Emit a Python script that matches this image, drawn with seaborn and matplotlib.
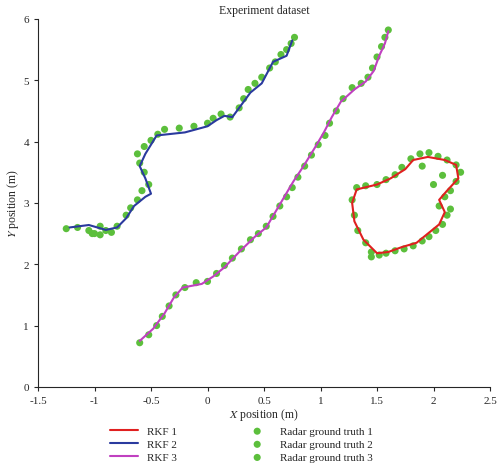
import seaborn as sns
import matplotlib.pyplot as plt

# RKF trajectories
rkf1_x = [1.5, 1.38, 1.3, 1.28, 1.32, 1.5, 1.62, 1.75, 1.82, 1.95, 2.1, 2.2, 2.22, 2.12, 2.05, 2.1, 2.05, 1.95, 1.85, 1.72, 1.6, 1.5]
rkf1_y = [2.18, 2.4, 2.7, 3.0, 3.22, 3.3, 3.4, 3.55, 3.7, 3.75, 3.7, 3.62, 3.4, 3.2, 3.05, 2.85, 2.65, 2.5, 2.35, 2.28, 2.2, 2.18]
rkf2_x = [-1.22, -1.05, -0.9, -0.8, -0.72, -0.65, -0.55, -0.5, -0.55, -0.6, -0.55, -0.5, -0.45, -0.2, 0.0, 0.08, 0.15, 0.22, 0.3, 0.38, 0.48, 0.58, 0.7, 0.75]
rkf2_y = [2.6, 2.64, 2.56, 2.6, 2.75, 2.95, 3.1, 3.15, 3.4, 3.6, 3.8, 3.95, 4.1, 4.15, 4.25, 4.35, 4.42, 4.4, 4.6, 4.8, 4.95, 5.3, 5.4, 5.65]
rkf3_x = [-0.6, -0.48, -0.38, -0.3, -0.22, -0.05, 0.05, 0.15, 0.28, 0.42, 0.52, 0.6, 0.68, 0.76, 0.85, 0.95, 1.03, 1.1, 1.18, 1.3, 1.4, 1.47, 1.52, 1.57, 1.6]
rkf3_y = [0.75, 0.95, 1.2, 1.45, 1.62, 1.68, 1.8, 1.95, 2.2, 2.45, 2.6, 2.85, 3.1, 3.35, 3.6, 3.9, 4.15, 4.4, 4.65, 4.85, 4.98, 5.15, 5.4, 5.6, 5.8]

# radar ground truth points
gt1_x = [1.45, 1.4, 1.33, 1.3, 1.28, 1.32, 1.4, 1.5, 1.58, 1.66, 1.72, 1.8, 1.88, 1.96, 2.04, 2.12, 2.2, 2.24, 2.2, 2.15, 2.1, 2.05, 2.12, 2.08, 2.02, 1.96, 1.9, 1.82, 1.74, 1.66, 1.58, 1.52, 1.45, 2.0, 1.9, 2.15, 2.08]
gt1_y = [2.2, 2.35, 2.55, 2.8, 3.05, 3.25, 3.28, 3.3, 3.38, 3.46, 3.58, 3.72, 3.8, 3.82, 3.76, 3.7, 3.62, 3.5, 3.35, 3.2, 3.1, 2.95, 2.8, 2.65, 2.55, 2.45, 2.38, 2.3, 2.25, 2.22, 2.18, 2.15, 2.12, 3.3, 3.6, 2.9, 3.45]
gt2_x = [-1.25, -1.15, -1.05, -1.0, -0.95, -0.9, -0.85, -0.95, -1.02, -0.8, -0.72, -0.68, -0.62, -0.58, -0.52, -0.56, -0.6, -0.62, -0.56, -0.5, -0.44, -0.38, -0.25, -0.12, 0.0, 0.05, 0.12, 0.2, 0.28, 0.32, 0.36, 0.42, 0.48, 0.55, 0.6, 0.65, 0.7, 0.74, 0.77]
gt2_y = [2.58, 2.6, 2.55, 2.5, 2.48, 2.55, 2.52, 2.62, 2.5, 2.62, 2.8, 2.92, 3.05, 3.2, 3.3, 3.5, 3.65, 3.8, 3.92, 4.02, 4.12, 4.2, 4.22, 4.25, 4.3, 4.38, 4.45, 4.4, 4.55, 4.7, 4.85, 4.95, 5.05, 5.2, 5.3, 5.42, 5.5, 5.6, 5.7]
gt3_x = [-0.6, -0.52, -0.45, -0.4, -0.34, -0.28, -0.2, -0.1, 0.0, 0.08, 0.15, 0.22, 0.3, 0.38, 0.45, 0.52, 0.58, 0.64, 0.7, 0.75, 0.8, 0.86, 0.92, 0.98, 1.04, 1.08, 1.14, 1.2, 1.28, 1.36, 1.42, 1.46, 1.5, 1.54, 1.57, 1.6]
gt3_y = [0.72, 0.85, 1.0, 1.15, 1.32, 1.5, 1.62, 1.7, 1.72, 1.85, 1.98, 2.1, 2.25, 2.4, 2.5, 2.62, 2.78, 2.95, 3.1, 3.25, 3.42, 3.6, 3.78, 3.95, 4.1, 4.3, 4.5, 4.7, 4.88, 4.95, 5.05, 5.2, 5.38, 5.55, 5.7, 5.82]

sns.set_style("ticks")
plt.rcParams['font.family'] = ['Liberation Serif', 'DejaVu Serif']
plt.rcParams['mathtext.fontset'] = 'stix'

fig = plt.figure(figsize=(5, 4.64), dpi=100)
ax = fig.add_axes([0.076, 0.164, 0.904, 0.793])

green = '#5cbf3c'
for xs, ys, lab in [(gt1_x, gt1_y, 'Radar ground truth 1'), (gt2_x, gt2_y, 'Radar ground truth 2'), (gt3_x, gt3_y, 'Radar ground truth 3')]:
    sns.scatterplot(x=xs, y=ys, ax=ax, color=green, s=26, edgecolor='none', label=lab, zorder=2)

# plain plot keeps the path order (lineplot would aggregate repeated x)
for xs, ys, c, lab in [(rkf1_x, rkf1_y, '#e02020', 'RKF 1'), (rkf2_x, rkf2_y, '#2a3a9e', 'RKF 2'), (rkf3_x, rkf3_y, '#c040c0', 'RKF 3')]:
    ax.plot(xs, ys, color=c, lw=1.5, label=lab, zorder=3)

ax.set_xlim(-1.5, 2.5)
ax.set_ylim(0, 6)
ax.set_xticks([-1.5, -1, -0.5, 0, 0.5, 1, 1.5, 2, 2.5])
ax.set_xticklabels(['-1.5', '-1', '-0.5', '0', '0.5', '1', '1.5', '2', '2.5'])
ax.tick_params(labelsize=8, length=3)
ax.set_xlabel('$X$ position (m)', fontsize=8.5, labelpad=1)
ax.set_ylabel('$Y$ position (m)', fontsize=8.5, labelpad=2)
ax.set_title('Experiment dataset', fontsize=8.5, pad=4)
sns.despine(ax=ax)

h, l = ax.get_legend_handles_labels()
order = [3, 4, 5, 0, 1, 2]
ax.legend([h[i] for i in order], [l[i] for i in order], ncol=2, frameon=False,
          loc='upper center', bbox_to_anchor=(0.45, -0.08), fontsize=8,
          columnspacing=6, handlelength=2.5, labelspacing=0.3)

fig.savefig('out.png', dpi=100)
